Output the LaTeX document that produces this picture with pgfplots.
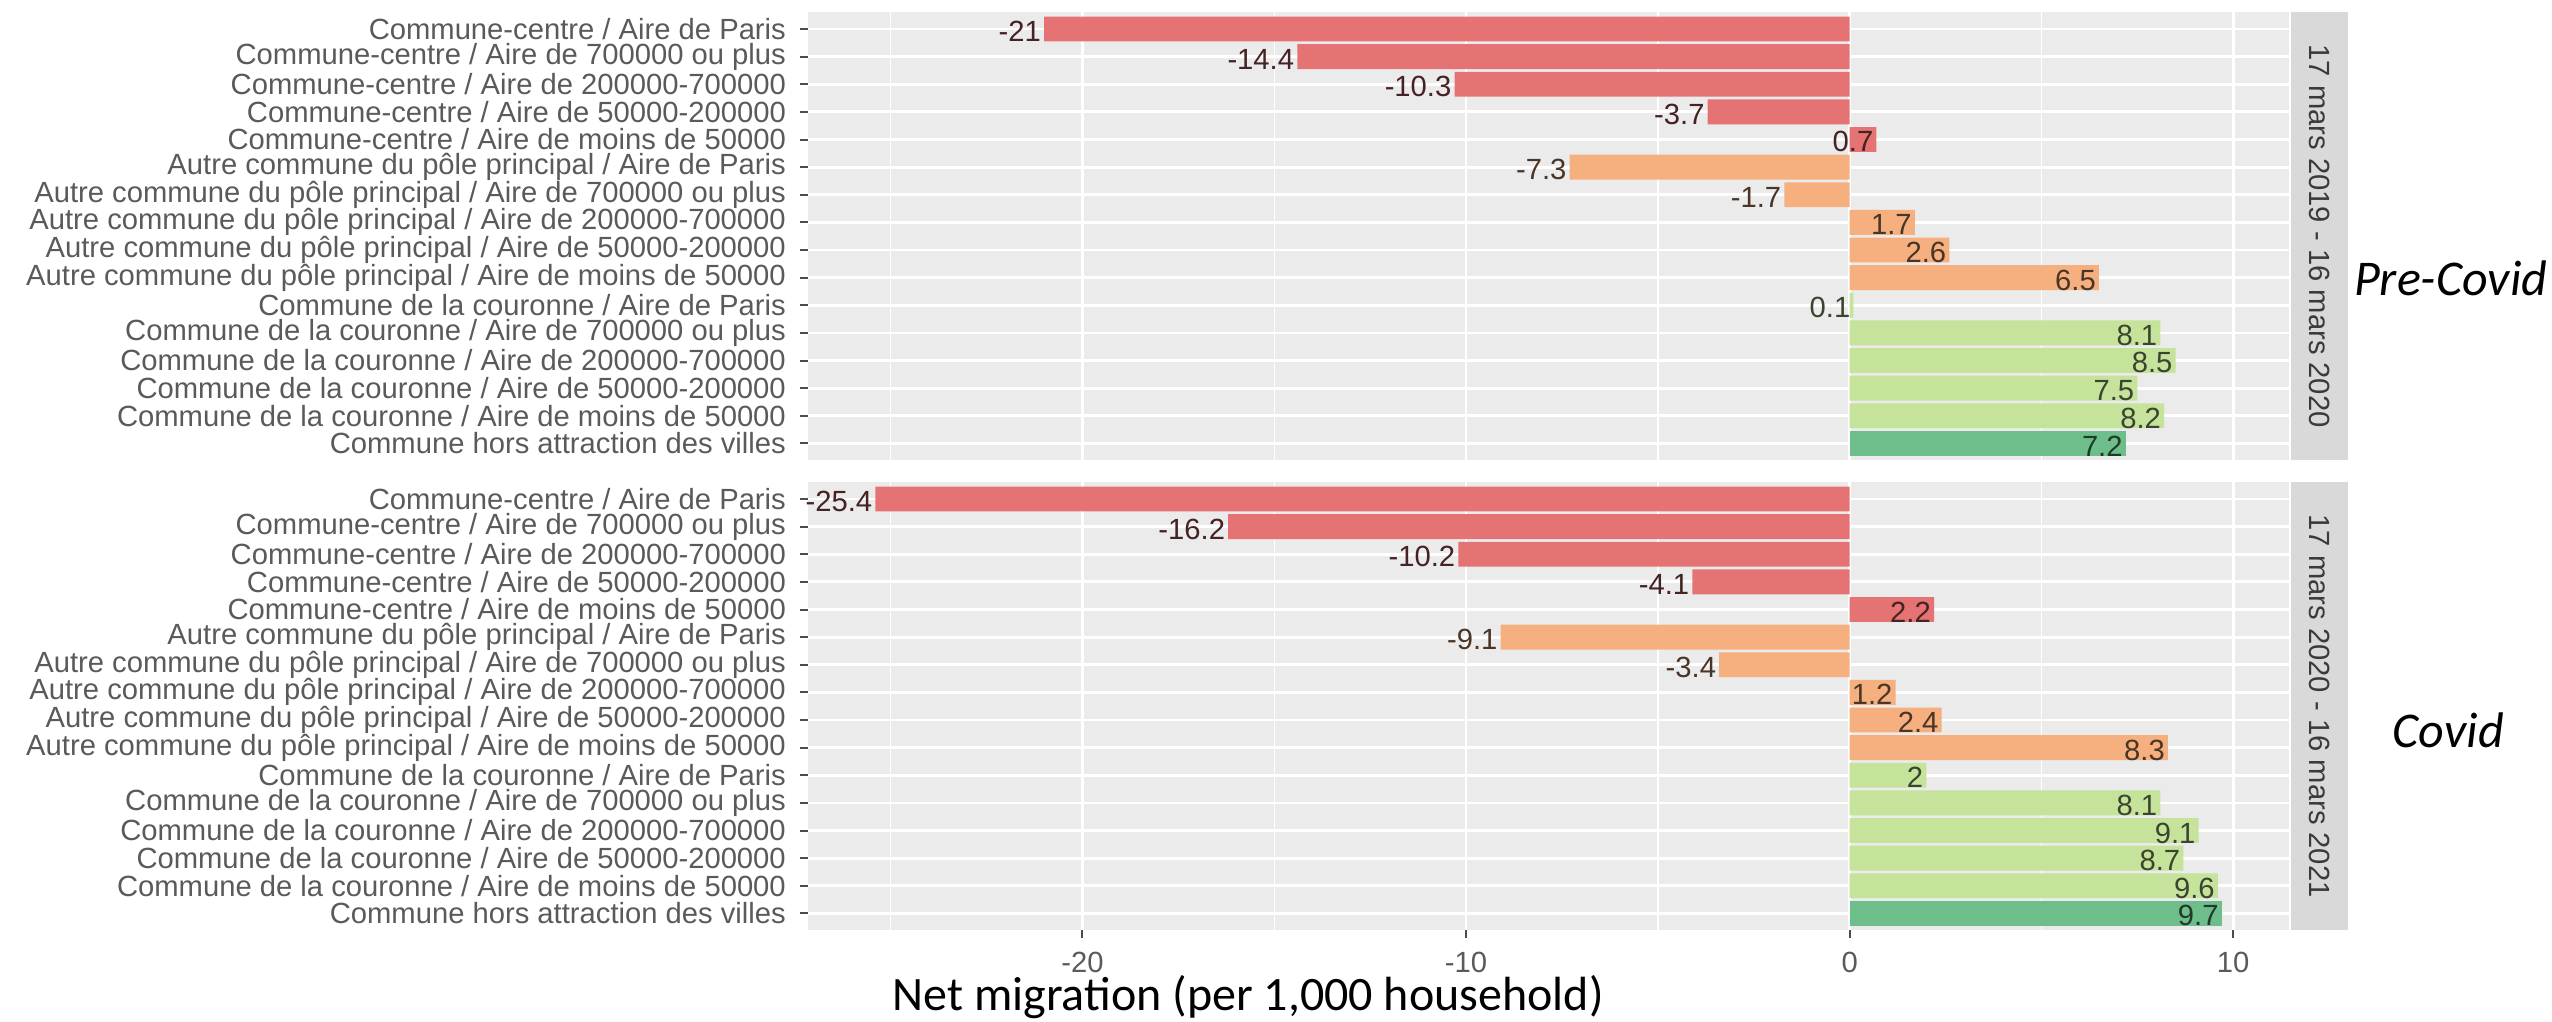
\documentclass[border=0pt]{standalone}
\usepackage{pgfplots}
\pgfplotsset{compat=1.18}
\usepackage{pgfplotstable}
\usepackage{fontspec}
\setmainfont{Liberation Sans}
\newfontfamily\calibri{Carlito}

\definecolor{panelbg}{HTML}{EBEBEB}
\definecolor{stripbg}{HTML}{D9D9D9}
\definecolor{axtext}{HTML}{5A5A5A}
\definecolor{striptext}{HTML}{3A3A3A}
\definecolor{cred}{HTML}{E57374}
\definecolor{corange}{HTML}{F6B07F}
\definecolor{clgreen}{HTML}{C6E39C}
\definecolor{cgreen}{HTML}{6DBE8A}

\newcommand\axfont{\fontsize{7.3}{8}\selectfont}
\newcommand\periodfont{\calibri\itshape\fontsize{12.5}{14}\selectfont}

% r = row (1 = top), v = net migration per 1,000 households
\pgfplotstableread{
r v
1 -21
2 -14.4
3 -10.3
4 -3.7
5 0.7
6 -7.3
7 -1.7
8 1.7
9 2.6
10 6.5
11 0.1
12 8.1
13 8.5
14 7.5
15 8.2
16 7.2
}\precovid

\pgfplotstableread{
r v
1 -25.4
2 -16.2
3 -10.2
4 -4.1
5 2.2
6 -9.1
7 -3.4
8 1.2
9 2.4
10 8.3
11 2
12 8.1
13 9.1
14 8.7
15 9.6
16 9.7
}\covid

\pgfplotsset{
  facet/.style={
    scale only axis, width=370.25pt, height=111.9pt, anchor=south west,
    xmin=-27.155, xmax=11.455, ymin=0.4, ymax=16.6, y dir=reverse,
    axis background/.style={fill=panelbg},
    axis line style={draw=none},
    xtick={-20,-10,0,10}, minor xtick={-25,-15,-5,5},
    ytick={1,...,16},
    yticklabels={
      Commune-centre / Aire de Paris,
      Commune-centre / Aire de 700000 ou plus,
      Commune-centre / Aire de 200000-700000,
      Commune-centre / Aire de 50000-200000,
      Commune-centre / Aire de moins de 50000,
      Autre commune du pôle principal / Aire de Paris,
      Autre commune du pôle principal / Aire de 700000 ou plus,
      Autre commune du pôle principal / Aire de 200000-700000,
      Autre commune du pôle principal / Aire de 50000-200000,
      Autre commune du pôle principal / Aire de moins de 50000,
      Commune de la couronne / Aire de Paris,
      Commune de la couronne / Aire de 700000 ou plus,
      Commune de la couronne / Aire de 200000-700000,
      Commune de la couronne / Aire de 50000-200000,
      Commune de la couronne / Aire de moins de 50000,
      Commune hors attraction des villes},
    grid=major, xminorgrids=true,
    major grid style={white, line width=0.7pt},
    minor grid style={white, line width=0.35pt},
    tick align=outside, xtick pos=bottom, ytick pos=left,
    major tick length=2pt, minor tick length=0pt,
    tick style={black!70, line width=0.5pt},
    ticklabel style={font=\axfont, text=axtext},
    /pgf/number format/fixed,
    /pgf/number format/precision=1,
    /pgf/number format/assume math mode=true,
    clip=false,
  },
}

% bars and value labels of one group of rows
\newcommand\grp[4]{%
  \addplot[xbar, bar width=0.9, bar shift=0pt, fill=#4, draw=none,
    restrict y to domain=#2:#3] table[x=v, y=r] {#1};
  \addplot[draw=none, mark=none, restrict y to domain=#2:#3,
    nodes near coords, point meta=x,
    nodes near coords style={anchor=east, inner sep=0.6pt, yshift=-0.6pt,
      font=\axfont, text=#4!30!black}] table[x=v, y=r] {#1};
}
\newcommand\allgroups[1]{%
  \grp{#1}{1}{5}{cred}
  \grp{#1}{6}{10}{corange}
  \grp{#1}{11}{15}{clgreen}
  \grp{#1}{16}{16}{cgreen}
}

\begin{document}
\begin{tikzpicture}
\path[use as bounding box] (0,0) rectangle (638pt,255.25pt);

\begin{axis}[facet, name=p1, at={(202pt,140.25pt)},
  xticklabels={}, xtick style={draw=none}]
  \allgroups{\precovid}
\end{axis}

\begin{axis}[facet, name=p2, at={(202pt,22.75pt)}]
  \allgroups{\covid}
\end{axis}

% facet strips
\fill[stripbg] ([xshift=0.5pt]p1.south east) rectangle ([xshift=14.75pt]p1.north east);
\fill[stripbg] ([xshift=0.5pt]p2.south east) rectangle ([xshift=14.75pt]p2.north east);
\node[rotate=-90, font=\axfont, text=striptext] at ([xshift=7.6pt]p1.east) {17 mars 2019 - 16 mars 2020};
\node[rotate=-90, font=\axfont, text=striptext] at ([xshift=7.6pt]p2.east) {17 mars 2020 - 16 mars 2021};

% period names and axis title
\node[font=\periodfont] at ([xshift=40.4pt, yshift=-10.6pt]p1.east) {Pre-Covid};
\node[font=\periodfont] at ([xshift=39.8pt, yshift=-6pt]p2.east) {Covid};
\node[anchor=base, font=\calibri\fontsize{12}{14}\selectfont] at ([xshift=-75.1pt, yshift=-20pt]p2.south) {Net migration (per 1,000 household)};
\end{tikzpicture}
\end{document}
